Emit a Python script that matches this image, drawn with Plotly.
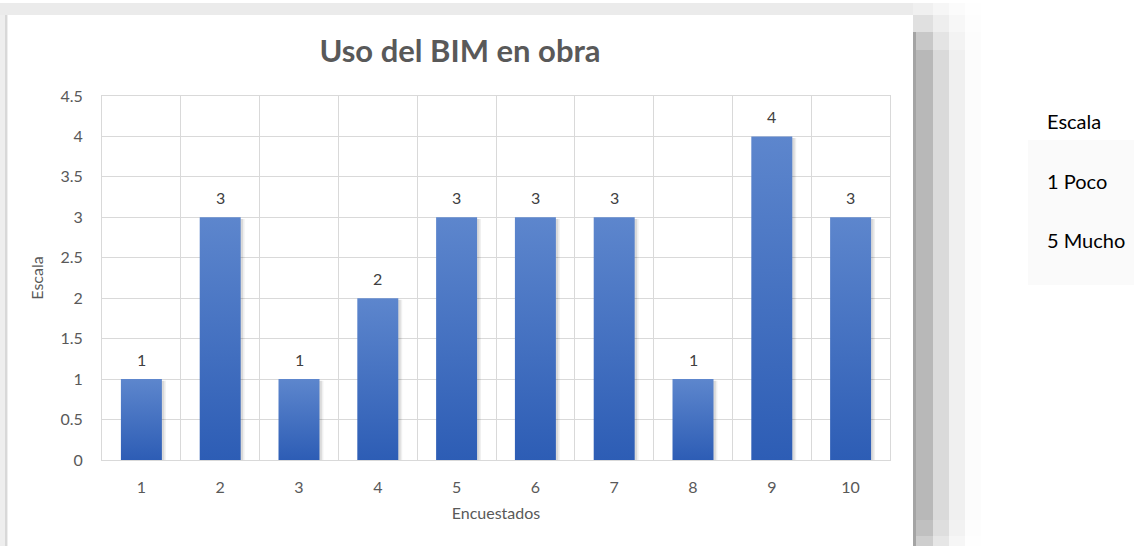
import plotly.graph_objects as go

# Survey data
respondents = [1, 2, 3, 4, 5, 6, 7, 8, 9, 10]
scores = [1, 3, 1, 2, 3, 3, 3, 1, 4, 3]
y_ticks = [0, 0.5, 1, 1.5, 2, 2.5, 3, 3.5, 4, 4.5]
y_tick_text = ["0", "0.5", "1", "1.5", "2", "2.5", "3", "3.5", "4", "4.5"]
side_notes = ["Escala", "1 Poco", "5 Mucho"]

W, H = 1134, 546
ML, MR, MT, MB = 102, 244, 96, 86
PW, PH = W - ML - MR, H - MT - MB

FONT = "Lato, 'Open Sans', sans-serif"
TXT = "#595959"
GRID = "#D9D9D9"
BAR_W = 0.52


def px_x(px):
    return (px - ML) / PW


def px_y(py):
    return (H - MB - py) / PH


def px_rect(x0, x1, y0, y1, color):
    return dict(type="rect", xref="paper", yref="paper",
                x0=px_x(x0), x1=px_x(x1), y0=px_y(y1), y1=px_y(y0),
                fillcolor=color, line=dict(width=0), layer="below")


fig = go.Figure()

# soft drop shadow behind each bar
for x, v in zip(respondents, scores):
    for off, alpha in ((0.05, 0.06), (0.03, 0.09)):
        x0, x1 = x - BAR_W / 2 + off, x + BAR_W / 2 + off
        fig.add_trace(go.Scatter(
            x=[x0, x1, x1, x0, x0], y=[0, 0, v - 0.02, v - 0.02, 0],
            fill="toself", fillcolor=f"rgba(0,0,0,{alpha})",
            mode="lines", line=dict(width=0), hoverinfo="skip", showlegend=False))

# gradient bars
for x, v in zip(respondents, scores):
    x0, x1 = x - BAR_W / 2, x + BAR_W / 2
    fig.add_trace(go.Scatter(
        x=[x0, x1, x1, x0, x0], y=[0, 0, v, v, 0],
        fill="toself",
        fillgradient=dict(type="vertical",
                          colorscale=[[0, "#2D5DB5"], [1, "#5D86CD"]]),
        mode="lines", line=dict(width=0),
        hovertemplate=f"Encuestado {x}: {v}<extra></extra>", showlegend=False))

annotations = []
# value labels above bars
for x, v in zip(respondents, scores):
    annotations.append(dict(x=x, y=v, xref="x", yref="y", text=str(v),
                            showarrow=False, yshift=20,
                            font=dict(family=FONT, size=16, color="#404040")))

# side notes
for note, py in zip(side_notes, (121, 181, 240)):
    annotations.append(dict(x=px_x(1045), y=px_y(py), xref="paper", yref="paper",
                            text=note, showarrow=False, xanchor="left", yanchor="middle",
                            font=dict(family=FONT, size=20, color="#000000")))

# frame around the chart area
shapes = [
    px_rect(0, 913, 3, 15, "#EBEBEB"),
    px_rect(0, 8, 15, 546, "#EEEEEE"),
    px_rect(5, 7, 15, 546, "#D8D8D8"),
]

# stepped shadow on the right edge of the chart area
shadow_cols = [(913, 933), (933, 949), (949, 965), (965, 981)]
shadow_rows = [
    ((3, 15), ["#F0F0F0", "#F6F6F6", "#FBFBFB", "#FEFEFE"]),
    ((15, 32), ["#E0E0E0", "#EEEEEE", "#F7F7F7", "#FDFDFD"]),
    ((32, 50), ["#C8C8C8", "#E4E4E4", "#F3F3F3", "#FCFCFC"]),
    ((50, 520), ["#B8B8B8", "#DADADA", "#F0F0F0", "#FCFCFC"]),
    ((520, 536), ["#C0C0C0", "#DEDEDE", "#F2F2F2", "#FDFDFD"]),
    ((536, 546), ["#CECECE", "#E6E6E6", "#F6F6F6", "#FEFEFE"]),
]
for (y0, y1), colors in shadow_rows:
    for (x0, x1), c in zip(shadow_cols, colors):
        shapes.append(px_rect(x0, x1, y0, y1, c))
shapes.append(px_rect(913, 916, 32, 546, "#A4A4A4"))

# faint haze behind the side notes
shapes.append(px_rect(1028, 1134, 140, 285, "#FAFAFA"))

fig.update_layout(
    width=W, height=H,
    margin=dict(l=ML, r=MR, t=MT, b=MB, pad=0),
    paper_bgcolor="white", plot_bgcolor="white",
    title=dict(text="<b>Uso del BIM en obra</b>", x=px_x(460), xref="paper",
               xanchor="center", y=1 - 51 / H, yref="container", yanchor="middle",
               font=dict(family=FONT, size=31, color=TXT)),
    font=dict(family=FONT, size=16, color=TXT),
    annotations=annotations,
    shapes=shapes,
    showlegend=False,
)

fig.update_xaxes(
    range=[0.5, 10.5], tickmode="array", tickvals=respondents,
    ticktext=[str(r) for r in respondents],
    showgrid=False, zeroline=False,
    minor=dict(tick0=0.5, dtick=1, showgrid=True, gridcolor=GRID, gridwidth=1, ticks=""),
    showline=True, linecolor=GRID, linewidth=1, mirror=True,
    ticks="outside", ticklen=0, ticklabelstandoff=13,
    title=dict(text="Encuestados", standoff=12, font=dict(family=FONT, size=16, color=TXT)),
    tickfont=dict(family=FONT, size=16, color=TXT),
)
fig.update_yaxes(
    range=[0, 4.5], tickmode="array", tickvals=y_ticks, ticktext=y_tick_text,
    showgrid=True, gridcolor=GRID, gridwidth=1, zeroline=False,
    showline=True, linecolor=GRID, linewidth=1, mirror=True,
    ticks="outside", ticklen=0, ticklabelstandoff=15,
    title=dict(text="Escala", standoff=12, font=dict(family=FONT, size=16, color=TXT)),
    tickfont=dict(family=FONT, size=16, color=TXT),
)

fig.write_html("out.html")
